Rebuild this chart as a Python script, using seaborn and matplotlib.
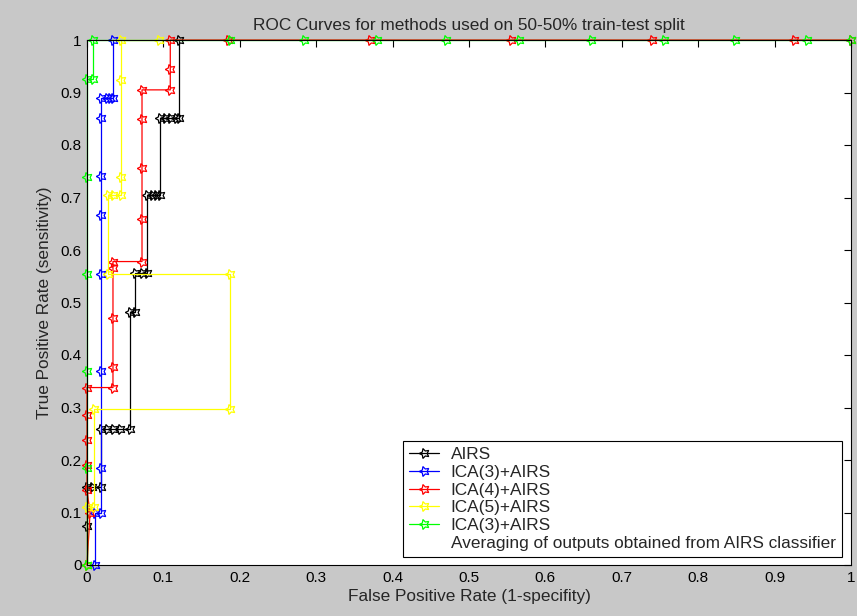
import numpy as np
import pandas as pd
import matplotlib
matplotlib.use('Agg')
from matplotlib import pyplot as plt
from matplotlib.lines import Line2D
import seaborn as sns

# ROC points (fpr, tpr), in drawing order
airs_fpr = [0, 0, 0, 0.006, 0.018, 0.018, 0.026, 0.034, 0.043, 0.056, 0.056, 0.063, 0.063,
            0.072, 0.078, 0.078, 0.085, 0.090, 0.096, 0.096, 0.102, 0.109, 0.117, 0.120, 0.120]
airs_tpr = [0, 0.074, 0.148, 0.148, 0.148, 0.259, 0.259, 0.259, 0.259, 0.259, 0.481, 0.481, 0.556,
            0.556, 0.556, 0.704, 0.704, 0.704, 0.704, 0.852, 0.852, 0.852, 0.852, 0.852, 1.0]

ica3_fpr = [0.010, 0.010, 0.018, 0.018, 0.018, 0.018, 0.018, 0.018, 0.018, 0.018,
            0.026, 0.030, 0.034, 0.034]
ica3_tpr = [0, 0.100, 0.100, 0.185, 0.370, 0.555, 0.667, 0.741, 0.852, 0.889,
            0.889, 0.889, 0.889, 1.0]

ica4_fpr = [0, 0.004, 0, 0, 0, 0, 0, 0.034, 0.034, 0.034, 0.034, 0.034, 0.072, 0.072, 0.072,
            0.072, 0.072, 0.109, 0.109, 0.109, 0.185, 0.370, 0.555, 0.740, 0.926, 1.0]
ica4_tpr = [0, 0.099, 0.143, 0.190, 0.238, 0.286, 0.338, 0.338, 0.378, 0.470, 0.565, 0.578, 0.578,
            0.660, 0.756, 0.850, 0.905, 0.905, 0.945, 1.0, 1.0, 1.0, 1.0, 1.0, 1.0, 1.0]

ica5_fpr = [0, 0, 0.009, 0.009, 0.187, 0.187, 0.028, 0.028, 0.034, 0.045, 0.045, 0.045,
            0.045, 0.094]
ica5_tpr = [0, 0.111, 0.111, 0.297, 0.297, 0.555, 0.555, 0.705, 0.705, 0.705, 0.740, 0.924,
            1.0, 1.0]

avg_fpr = [0, 0, 0, 0, 0, 0, 0.008, 0.008, 0.187, 0.284, 0.379, 0.470, 0.566, 0.660,
           0.755, 0.848, 0.943, 1.0]
avg_tpr = [0, 0.185, 0.370, 0.555, 0.740, 0.925, 0.925, 1.0, 1.0, 1.0, 1.0, 1.0, 1.0, 1.0,
           1.0, 1.0, 1.0, 1.0]

labels = ['AIRS', 'ICA(3)+AIRS', 'ICA(4)+AIRS', 'ICA(5)+AIRS', 'ICA(3)+AIRS']
colors = ['#000000', '#0000ff', '#ff0000', '#ffff00', '#00ff00']
extra_label = 'Averaging of outputs obtained from AIRS classifier'

series = [(airs_fpr, airs_tpr), (ica3_fpr, ica3_tpr), (ica4_fpr, ica4_tpr),
          (ica5_fpr, ica5_tpr), (avg_fpr, avg_tpr)]

sns.set_style('white')
plt.rcParams['font.family'] = ['Liberation Sans Narrow', 'Liberation Sans', 'DejaVu Sans']

fig = plt.figure(figsize=(8.57, 6.16), dpi=100, facecolor='#c8c8c8')
ax = fig.add_axes([87 / 857, 1 - 565 / 616, 764 / 857, 525 / 616])
ax.set_facecolor('white')

star = (5, 1, 90)
for (fpr, tpr), lab, col in zip(series, labels, colors):
    df = pd.DataFrame({'fpr': fpr, 'tpr': tpr})
    sns.lineplot(data=df, x='fpr', y='tpr', sort=False, estimator=None, color=col,
                 marker=star, markersize=7.5, markerfacecolor='none', markeredgecolor=col,
                 markeredgewidth=0.9, linewidth=0.9, label=lab, ax=ax, clip_on=False)

ax.set_xlim(0, 1)
ax.set_ylim(0, 1)
ticks = np.round(np.arange(0, 1.01, 0.1), 1)
ticklabels = ['0'] + [f'{t:.1f}' for t in ticks[1:-1]] + ['1']
ax.set_xticks(ticks)
ax.set_xticklabels(ticklabels)
ax.set_yticks(ticks)
ax.set_yticklabels(ticklabels)
ax.tick_params(direction='in', length=5, width=0.8, top=True, right=True,
               labelsize=11, colors='black', pad=4)
for s in ax.spines.values():
    s.set_visible(True)
    s.set_color('black')
    s.set_linewidth(0.8)

ax.set_title('ROC Curves for methods used on 50-50% train-test split', fontsize=12.4, pad=7)
ax.set_xlabel('False Positive Rate (1-specifity)', fontsize=12.4, labelpad=3)
ax.set_ylabel('True Positive Rate (sensitivity)', fontsize=12.4, labelpad=6)

handles, labs = ax.get_legend_handles_labels()
handles.append(Line2D([], [], linestyle='none', marker='none'))
labs.append(extra_label)
leg = ax.legend(handles, labs, loc='lower right', bbox_to_anchor=(0.988, 0.015),
                prop={'family': ['Liberation Sans', 'DejaVu Sans'], 'size': 12.4},
                frameon=True, fancybox=False, framealpha=1,
                edgecolor='black', handlelength=1.75, handletextpad=0.7,
                borderpad=0.35, labelspacing=0.16, borderaxespad=0)
leg.get_frame().set_linewidth(0.8)

fig.savefig('out.png', dpi=100, facecolor=fig.get_facecolor())
